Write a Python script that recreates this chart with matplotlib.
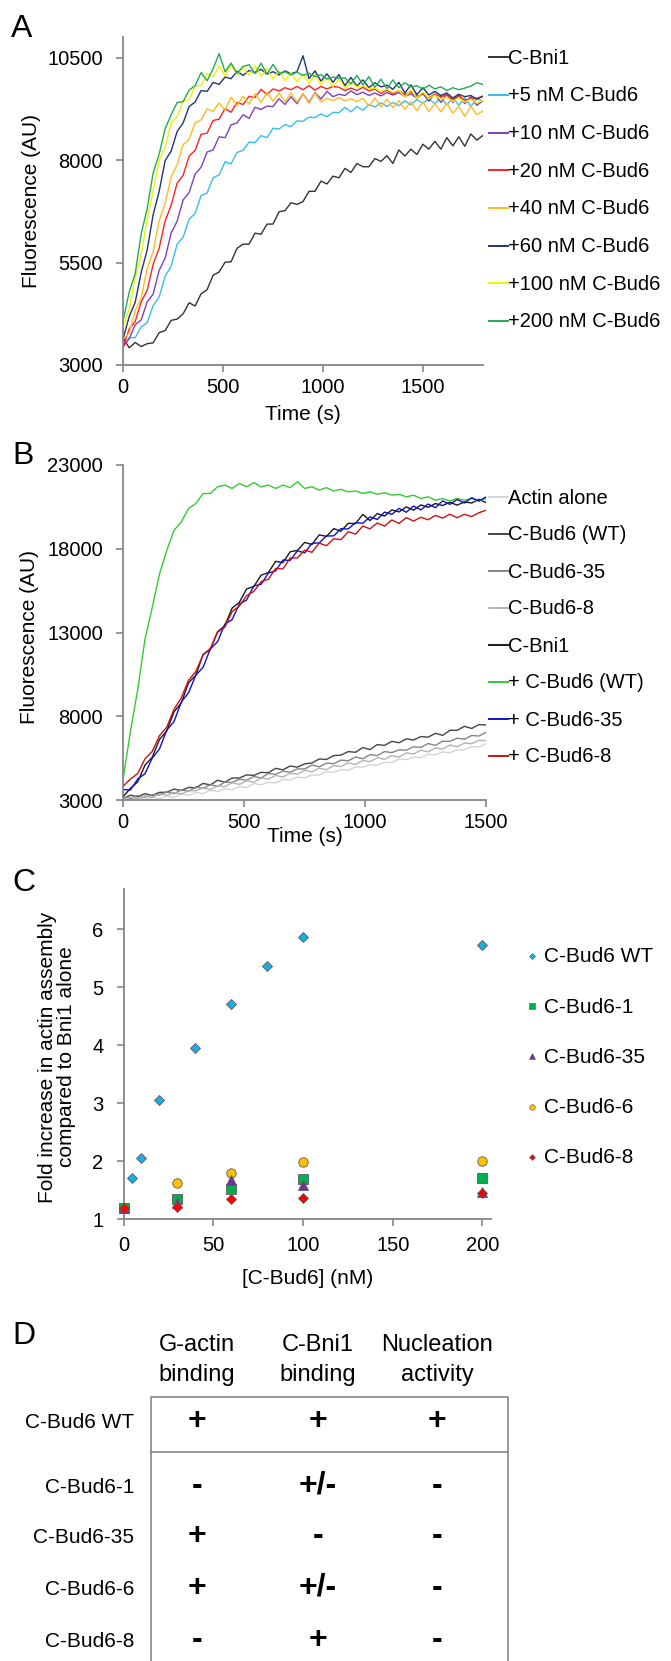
import matplotlib.pyplot as plt
import numpy as np

plt.rcParams['font.family'] = ['Liberation Sans', 'DejaVu Sans']

W, H = 671, 1661
GREY = '#868686'

# ---------------- Panel A: C-Bni1 with increasing C-Bud6 ----------------
time_a = np.arange(0, 1801, 30)
a_labels = ['C-Bni1', '+5 nM C-Bud6', '+10 nM C-Bud6', '+20 nM C-Bud6',
            '+40 nM C-Bud6', '+60 nM C-Bud6', '+100 nM C-Bud6', '+200 nM C-Bud6']
a_colors = ['#333333', '#38bdf0', '#7f3fbf', '#ff2020',
            '#ffba26', '#1f3778', '#f2f200', '#22aa55']

a_bni1 = [3660, 3420, 3550, 3450, 3520, 3540, 3790, 3840, 4090, 4120,
          4250, 4520, 4440, 4740, 4840, 5190, 5270, 5510, 5520, 5850,
          5950, 5950, 6220, 6190, 6440, 6440, 6740, 6770, 6960, 6920,
          6990, 7240, 7240, 7490, 7420, 7610, 7570, 7800, 7700, 7920,
          7840, 7840, 8040, 7970, 8110, 7920, 8250, 8100, 8270, 8140,
          8390, 8270, 8460, 8270, 8550, 8350, 8570, 8340, 8640, 8490,
          8600]
a_5nm = [3460, 3660, 3670, 3930, 4030, 4450, 4660, 5170, 5410, 5950,
         6120, 6560, 6700, 7140, 7200, 7570, 7640, 7960, 7910, 8190,
         8240, 8440, 8430, 8600, 8550, 8780, 8760, 8870, 8820, 8960,
         8950, 9050, 9040, 9130, 9060, 9170, 9160, 9290, 9180, 9310,
         9220, 9360, 9300, 9400, 9310, 9410, 9330, 9450, 9350, 9480,
         9390, 9490, 9380, 9540, 9350, 9530, 9340, 9520, 9310, 9500,
         9450]
a_10nm = [3450, 3640, 3980, 4100, 4540, 4730, 5310, 5610, 6220, 6510,
          7030, 7210, 7660, 7830, 8200, 8250, 8570, 8550, 8860, 8910,
          9110, 9020, 9290, 9240, 9320, 9310, 9500, 9360, 9550, 9380,
          9620, 9410, 9650, 9490, 9680, 9550, 9610, 9580, 9690, 9600,
          9660, 9580, 9640, 9570, 9650, 9590, 9650, 9550, 9620, 9510,
          9630, 9440, 9620, 9410, 9610, 9410, 9590, 9380, 9550, 9340,
          9450]
a_20nm = [3440, 3880, 4060, 4540, 4820, 5460, 5850, 6520, 6900, 7440,
          7630, 8100, 8240, 8630, 8660, 8970, 9000, 9260, 9170, 9410,
          9360, 9560, 9530, 9730, 9600, 9740, 9690, 9770, 9720, 9800,
          9720, 9820, 9710, 9800, 9740, 9800, 9780, 9700, 9760, 9700,
          9780, 9690, 9740, 9630, 9710, 9620, 9700, 9600, 9670, 9560,
          9620, 9520, 9610, 9550, 9590, 9480, 9580, 9460, 9510, 9510,
          9560]
a_40nm = [3640, 3780, 4330, 4640, 5350, 5770, 6520, 6950, 7590, 7890,
          8380, 8510, 8910, 8980, 9250, 9190, 9400, 9220, 9540, 9330,
          9560, 9370, 9620, 9410, 9650, 9440, 9640, 9430, 9640, 9420,
          9620, 9390, 9640, 9420, 9510, 9450, 9530, 9450, 9500, 9430,
          9510, 9320, 9520, 9300, 9490, 9280, 9450, 9240, 9430, 9210,
          9420, 9190, 9380, 9180, 9390, 9150, 9310, 9070, 9320, 9110,
          9200]
a_60nm = [3650, 4180, 4530, 5260, 5810, 6670, 7240, 7990, 8220, 8700,
          8910, 9310, 9420, 9700, 9680, 9900, 9850, 10030, 9990, 10170,
          10070, 10190, 10140, 10220, 10100, 10160, 10080, 10180, 10110, 10160,
          10550, 9990, 10180, 9930, 10110, 9900, 10090, 9820, 10020, 9810,
          9960, 9770, 9890, 9790, 9830, 9730, 9900, 9640, 9840, 9600,
          9770, 9590, 9680, 9580, 9640, 9520, 9610, 9550, 9580, 9490,
          9560]
a_100nm = [3960, 4350, 5140, 5680, 6580, 7240, 8000, 8320, 8910, 9060,
           9440, 9480, 9810, 9820, 10120, 10040, 10300, 10060, 10330, 10090,
           10270, 10070, 10310, 10050, 10240, 9980, 10180, 9940, 10150, 9910,
           10110, 9880, 10090, 9840, 10020, 9800, 9980, 9760, 9900, 9790,
           9830, 9740, 9770, 9670, 9740, 9650, 9710, 9530, 9730, 9510,
           9670, 9500, 9590, 9480, 9530, 9440, 9520, 9420, 9490, 9400,
           9460]
a_200nm = [4090, 4780, 5230, 6200, 6820, 7690, 8150, 8770, 9110, 9410,
           9430, 9710, 9820, 10140, 9940, 10230, 10600, 10160, 10370, 10120,
           10290, 10330, 10110, 10370, 10100, 10340, 10120, 10160, 10080, 10150,
           10070, 10120, 10040, 10090, 9980, 10030, 10000, 10010, 9860, 10070,
           9840, 10040, 9780, 9980, 9750, 9960, 9770, 9890, 9790, 9820,
           9730, 9830, 9740, 9790, 9700, 9770, 9720, 9760, 9810, 9890,
           9850]
a_series = [a_bni1, a_5nm, a_10nm, a_20nm, a_40nm, a_60nm, a_100nm, a_200nm]

# ---------------- Panel B: mutants ----------------
time_b = np.arange(0, 1501, 30)
b_labels = ['Actin alone', 'C-Bud6 (WT)', 'C-Bud6-35', 'C-Bud6-8',
            'C-Bni1', '+ C-Bud6 (WT)', '+ C-Bud6-35', '+ C-Bud6-8']
b_colors = ['#d4d4d4', '#454545', '#858585', '#b3b3b3',
            '#1a1a1a', '#33cc33', '#1010d0', '#cc1111']

b_actin = [3110, 3010, 3180, 3020, 3170, 3070, 3250, 3140, 3390, 3260,
           3460, 3380, 3580, 3500, 3670, 3620, 3800, 3740, 3990, 3910,
           4060, 4030, 4230, 4200, 4370, 4320, 4500, 4490, 4690, 4660,
           4810, 4780, 4980, 4950, 5120, 5070, 5250, 5240, 5440, 5410,
           5560, 5530, 5730, 5700, 5870, 5820, 6000, 5990, 6190, 6160,
           6360]
b_wt = [3080, 3290, 3200, 3380, 3260, 3460, 3460, 3650, 3570, 3750,
        3730, 3990, 3900, 4180, 4060, 4310, 4310, 4500, 4470, 4650,
        4630, 4890, 4800, 5030, 4960, 5160, 5210, 5450, 5420, 5650,
        5680, 5890, 5850, 6130, 6010, 6310, 6260, 6500, 6420, 6650,
        6580, 6790, 6750, 6980, 6860, 7160, 7160, 7400, 7270, 7500,
        7480]
b_35 = [3180, 3090, 3270, 3160, 3310, 3300, 3490, 3380, 3600, 3520,
        3780, 3690, 3920, 3810, 4060, 4050, 4240, 4180, 4400, 4320,
        4580, 4540, 4720, 4660, 4860, 4850, 5090, 4980, 5200, 5170,
        5380, 5340, 5570, 5460, 5710, 5650, 5890, 5830, 6000, 5970,
        6180, 6140, 6370, 6260, 6510, 6500, 6690, 6630, 6850, 6820,
        7050]
b_8 = [3050, 3170, 3070, 3260, 3140, 3380, 3280, 3450, 3360, 3560,
       3550, 3720, 3620, 3860, 3790, 4030, 3930, 4150, 4060, 4310,
       4250, 4470, 4370, 4610, 4540, 4780, 4680, 4900, 4810, 5060,
       5000, 5220, 5120, 5360, 5290, 5530, 5430, 5650, 5560, 5810,
       5750, 5970, 5870, 6110, 6040, 6280, 6180, 6400, 6360, 6560,
       6550]
b_bni1 = [3200, 3700, 4080, 5080, 5550, 6620, 7120, 8260, 8800, 10000,
          10450, 11680, 11980, 13050, 13400, 14460, 14800, 15600, 15750, 16420,
          16580, 17250, 17170, 17820, 17900, 18380, 18250, 18830, 18740, 19200,
          19050, 19520, 19500, 20050, 19680, 20100, 19950, 20320, 20200, 20500,
          20300, 20620, 20470, 20700, 20580, 20780, 20600, 20800, 20730, 20950,
          20750]
b_plus_wt = [4300, 7100, 9600, 12600, 14500, 16500, 17900, 19100, 19600, 20400,
             20700, 21300, 21300, 21700, 21800, 21600, 21900, 21700, 21950, 21700,
             21800, 21600, 21800, 21650, 22000, 21600, 21700, 21500, 21650, 21450,
             21550, 21400, 21450, 21300, 21400, 21250, 21350, 21200, 21250, 21100,
             21200, 21000, 21100, 20900, 21000, 20850, 21000, 20900, 21000, 20850,
             21000]
b_plus_35 = [3620, 3600, 4250, 4570, 5500, 6050, 7180, 7680, 8850, 9400,
             10450, 10920, 12020, 12450, 13500, 13770, 14700, 14940, 15780, 15880,
             16550, 16680, 17330, 17300, 17880, 17750, 18320, 18350, 18760, 18770,
             19200, 19180, 19560, 19520, 19900, 19750, 20190, 20050, 20410, 20180,
             20550, 20320, 20670, 20450, 20860, 20650, 20940, 20730, 21050, 20850,
             21100]
b_plus_8 = [3820, 4250, 4580, 5460, 5900, 6840, 7350, 8420, 9100, 10150,
            10670, 11660, 12050, 13020, 13320, 14250, 14580, 15200, 15450, 16040,
            16180, 16830, 16790, 17450, 17450, 17920, 17790, 18340, 18180, 18600,
            18540, 19020, 18870, 19350, 19190, 19540, 19350, 19720, 19510, 19860,
            19650, 19880, 19730, 19990, 19830, 20060, 19850, 20060, 19920, 20150,
            20300]
b_series = [b_actin, b_wt, b_35, b_8, b_bni1, b_plus_wt, b_plus_35, b_plus_8]

# ---------------- Panel C: fold increase ----------------
conc_wt = [0, 5, 10, 20, 40, 60, 80, 100, 200]
fold_wt = [1.2, 1.72, 2.06, 3.05, 3.96, 4.72, 5.37, 5.87, 5.73]
conc_mut = [0, 30, 60, 100, 200]
fold_1 = [1.19, 1.35, 1.53, 1.69, 1.71]
fold_35 = [1.2, 1.28, 1.67, 1.60, 1.47]
fold_6 = [1.2, 1.62, 1.80, 1.98, 2.01]
fold_8 = [1.2, 1.21, 1.35, 1.36, 1.46]

# ---------------- Panel D: summary table ----------------
d_rows = ['C-Bud6 WT', 'C-Bud6-1', 'C-Bud6-35', 'C-Bud6-6', 'C-Bud6-8']
d_cols = [('G-actin', 'binding'), ('C-Bni1', 'binding'), ('Nucleation', 'activity')]
d_gactin = ['+', '-', '+', '+', '-']
d_bni1 = ['+', '+/-', '-', '+/-', '+']
d_nucl = ['+', '-', '-', '-', '-']

fig = plt.figure(figsize=(W / 100, H / 100), dpi=100)


def axes_px(left, top, right, bottom):
    return fig.add_axes([left / W, 1 - bottom / H, (right - left) / W, (bottom - top) / H])


def style(ax):
    for s in ('top', 'right'):
        ax.spines[s].set_visible(False)
    for s in ('left', 'bottom'):
        ax.spines[s].set_color(GREY)
        ax.spines[s].set_linewidth(1.3)
    ax.tick_params(direction='out', length=5, width=1.2, color=GREY, labelsize=14.5)
    ax.tick_params(axis='y', pad=9.5)
    ax.tick_params(axis='x', pad=4.5)


# A
ax_a = axes_px(123.2, 37.3, 482.8, 365)
for ys, c in zip(a_series, a_colors):
    ax_a.plot(time_a, ys, color=c, lw=1.0)
ax_a.set_xlim(0, 1800)
ax_a.set_ylim(3000, 11000)
ax_a.set_xticks([0, 500, 1000, 1500])
ax_a.set_yticks([3000, 5500, 8000, 10500])
style(ax_a)
ax_a.set_xlabel('Time (s)', fontsize=15)
ax_a.xaxis.set_label_coords(0.5, -0.152)
ax_a.xaxis.label.set_va('center')
ax_a.set_ylabel('Fluorescence (AU)', fontsize=15)
ax_a.yaxis.set_label_coords(-0.255, 0.5)
ax_a.yaxis.label.set_va('center')

# B
ax_b = axes_px(123.2, 465, 486.2, 800)
for ys, c in zip(b_series, b_colors):
    ax_b.plot(time_b, ys, color=c, lw=1.0)
ax_b.set_xlim(0, 1500)
ax_b.set_ylim(3000, 23000)
ax_b.set_xticks([0, 500, 1000, 1500])
ax_b.set_yticks([3000, 8000, 13000, 18000, 23000])
style(ax_b)
ax_b.set_xlabel('Time (s)', fontsize=15)
ax_b.xaxis.set_label_coords(0.5, -0.11)
ax_b.xaxis.label.set_va('center')
ax_b.set_ylabel('Fluorescence (AU)', fontsize=15)
ax_b.yaxis.set_label_coords(-0.258, 0.487)
ax_b.yaxis.label.set_va('center')

# C
ax_c = axes_px(123.5, 889.3, 491.4, 1219.3)
c_specs = [
    ('C-Bud6 WT', conc_wt, fold_wt, 'D', '#1aaee6', 5.2),
    ('C-Bud6-6', conc_mut, fold_6, 'o', '#ffc000', 6.8),
    ('C-Bud6-1', conc_mut, fold_1, 's', '#00b050', 7.0),
    ('C-Bud6-35', conc_mut, fold_35, '^', '#7030a0', 7.0),
    ('C-Bud6-8', conc_mut, fold_8, 'D', '#ff0000', 5.0),
]
for name, xs, ys, m, c, ms in c_specs:
    ax_c.plot(xs, ys, ls='none', marker=m, ms=ms, mfc=c, mec='#5a5a5a',
              mew=0.6, clip_on=False, zorder=3)
ax_c.set_xlim(0, 205)
ax_c.set_ylim(1, 6.69)
ax_c.set_xticks([0, 50, 100, 150, 200])
ax_c.set_yticks([1, 2, 3, 4, 5, 6])
style(ax_c)
ax_c.tick_params(axis='x', pad=7)
ax_c.set_xlabel('[C-Bud6] (nM)', fontsize=15)
ax_c.xaxis.set_label_coords(0.5, -0.178)
ax_c.xaxis.label.set_va('center')
ax_c.set_ylabel('Fold increase in actin assembly\ncompared to Bni1 alone',
                fontsize=15, linespacing=1.0)
ax_c.yaxis.set_label_coords(-0.18, 0.492)
ax_c.yaxis.label.set_va('center')

# overlay in pixel coordinates for legends, panel letters and the table
ov = fig.add_axes([0, 0, 1, 1], zorder=10)
ov.set_xlim(0, W)
ov.set_ylim(H, 0)
ov.axis('off')
ov.patch.set_alpha(0)

for letter, (x, y) in zip('ABCD', [(11, 37), (12, 464), (12, 891), (12, 1344)]):
    ov.text(x, y, letter, fontsize=23, ha='left', va='baseline')


def line_legend(labels, colors, y0, dy):
    for i, (lab, col) in enumerate(zip(labels, colors)):
        y = y0 + i * dy
        ov.plot([489, 508], [y, y], color=col, lw=1.4)
        ov.text(508, y + 1, lab, fontsize=14.5, ha='left', va='center')


line_legend(a_labels, a_colors, 57.3, 37.67)
line_legend(b_labels, b_colors, 497, 37.0)

c_legend = ['C-Bud6 WT', 'C-Bud6-1', 'C-Bud6-35', 'C-Bud6-6', 'C-Bud6-8']
c_lookup = {s[0]: s for s in c_specs}
for i, name in enumerate(c_legend):
    _, _, _, m, c, ms = c_lookup[name]
    y = 956 + i * 50.2
    ov.plot([532], [y], marker=m, ms=ms * 0.6, mfc=c, mec='#5a5a5a', mew=0.4, ls='none')
    ov.text(544, y + 1, name, fontsize=15, ha='left', va='center')

# table D
col_x = [197, 318, 437]
for cx, (l1, l2) in zip(col_x, d_cols):
    ov.text(cx, 1351, l1, fontsize=17, ha='center', va='baseline')
    ov.text(cx, 1381, l2, fontsize=17, ha='center', va='baseline')

row_base = [1428, 1493, 1542.7, 1595, 1646.7]
for lab, yb, g, b, n in zip(d_rows, row_base, d_gactin, d_bni1, d_nucl):
    ov.text(134, yb, lab, fontsize=15, ha='right', va='baseline')
    for cx, sym in zip(col_x, (g, b, n)):
        ov.text(cx, yb - 7, sym, fontsize=23, fontweight='bold',
                ha='center', va='center')

ov.plot([151, 151, 508, 508], [1665, 1397, 1397, 1665], color=GREY, lw=1.2)
ov.plot([151, 508], [1452, 1452], color=GREY, lw=1.2)

fig.savefig('out.png', dpi=100)
